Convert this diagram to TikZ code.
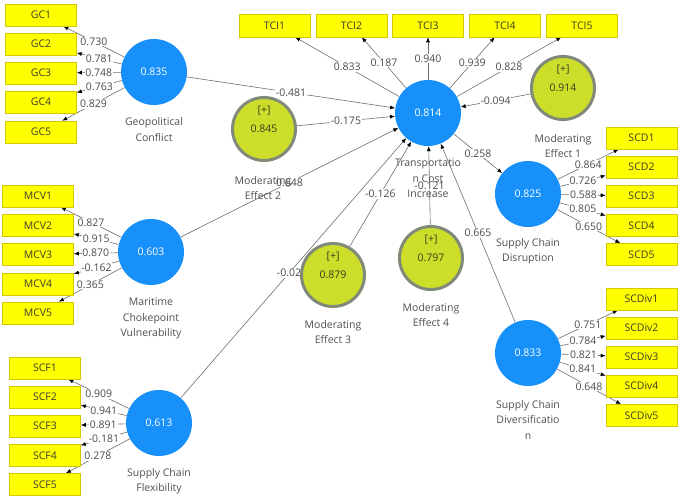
\documentclass[tikz,border=0pt]{standalone}
\usepackage{fontspec}
\setmainfont{Open Sans}
\usetikzlibrary{arrows.meta}
\pgfdeclarelayer{bg}
\pgfsetlayers{bg,main}
\definecolor{lvblue}{RGB}{24,144,250}
\definecolor{modgreen}{RGB}{204,222,42}
\definecolor{modborder}{RGB}{128,138,120}
\definecolor{modtext}{RGB}{60,60,30}
\definecolor{indyellow}{RGB}{255,255,0}
\definecolor{indborder}{RGB}{214,200,0}
\definecolor{boxtext}{RGB}{60,60,40}
\definecolor{captext}{RGB}{80,80,80}
\definecolor{valtext}{RGB}{75,75,75}
\definecolor{linegray}{RGB}{110,110,110}
\begin{document}
\begin{tikzpicture}[x=1pt,y=-1pt, font=\fontsize{10.5}{12}\selectfont,
 lvnode/.style={circle, fill=lvblue, draw=none, minimum size=66pt, inner sep=0pt, text=white, font=\fontsize{10.5}{12}\selectfont},
 modnode/.style={circle, fill=modgreen, draw=modborder, line width=3pt, minimum size=63pt, inner sep=0pt, text=modtext, font=\fontsize{10.5}{12}\selectfont},
 plustext/.style={text=modtext, inner sep=0pt, font=\fontsize{10.5}{12}\selectfont},
 indbox/.style={rectangle, fill=indyellow, draw=indborder, line width=0.6pt, minimum width=71pt, minimum height=22pt, inner sep=0pt, text=boxtext},
 lvcaption/.style={align=center, text=captext, inner sep=0pt, font=\fontsize{10.5}{15.5}\selectfont},
 connector/.style={draw=linegray, line width=0.6pt, -{Latex[length=5pt,width=4pt,color=black]}},
 vallabel/.style={fill=white, inner sep=0.8pt, text=valtext, midway, font=\fontsize{10.5}{12}\selectfont}
]
\useasboundingbox (0,0) rectangle (680,500);

% latent variables
\node[lvnode] (gc) at (154,72) {0.835};
\node[lvnode] (tci) at (428,113) {0.814};
\node[lvnode] (scd) at (528,194) {0.825};
\node[lvnode] (mcv) at (151,252) {0.603};
\node[lvnode] (scf) at (159,423) {0.613};
\node[lvnode] (scdiv) at (528,353) {0.833};

% moderating effects
\node[modnode] (me1) at (563,88) {0.914};
\node[modnode] (me2) at (264,129) {0.845};
\node[modnode] (me3) at (333,275) {0.879};
\node[modnode] (me4) at (431,258) {0.797};
\node[plustext] (me1p) at ([yshift=18pt]me1.center) {[+]};
\node[plustext] (me2p) at ([yshift=18pt]me2.center) {[+]};
\node[plustext] (me3p) at ([yshift=18pt]me3.center) {[+]};
\node[plustext] (me4p) at ([yshift=18pt]me4.center) {[+]};

% captions
\node[lvcaption] (gccap) at (154,129.5) {Geopolitical\\Conflict};
\node[lvcaption] (tcicap) at (428,178.5) {Transportatio\\n Cost\\Increase};
\node[lvcaption] (me2cap) at (263,188) {Moderating\\Effect 2};
\node[lvcaption] (me1cap) at (563,146) {Moderating\\Effect 1};
\node[lvcaption] (scdcap) at (528,251.5) {Supply Chain\\Disruption};
\node[lvcaption] (mcvcap) at (151,318.5) {Maritime\\Chokepoint\\Vulnerability};
\node[lvcaption] (me3cap) at (333,332) {Moderating\\Effect 3};
\node[lvcaption] (me4cap) at (431,315) {Moderating\\Effect 4};
\node[lvcaption] (scfcap) at (159,481.5) {Supply Chain\\Flexibility};
\node[lvcaption] (scdivcap) at (528,420) {Supply Chain\\Diversificatio\\n};

% indicators
\foreach \i/\y in {1/15,2/44,3/73,4/102,5/132} \node[indbox] (gc\i) at (41,\y) {GC\i};
\foreach \i/\y in {1/196,2/225.5,3/254.5,4/284,5/313} \node[indbox] (mcv\i) at (38,\y) {MCV\i};
\foreach \i/\y in {1/368,2/397,3/426,4/455.5,5/484.5} \node[indbox] (scf\i) at (45,\y) {SCF\i};
\foreach \i/\x in {1/274.5,2/351.5,3/428,4/505,5/582} \node[indbox, minimum height=23pt] (tci\i) at (\x,25.5) {TCI\i};
\foreach \i/\y in {1/138,2/167,3/196,4/225.5,5/254.5} \node[indbox] (scd\i) at (641.5,\y) {SCD\i};
\foreach \i/\y in {1/299,2/328,3/357,4/386,5/415.5} \node[indbox] (scdiv\i) at (641.5,\y) {SCDiv\i};

\begin{pgfonlayer}{bg}
% outer loadings
\foreach \i/\v in {1/0.730,2/0.781,3/0.748,4/0.763,5/0.829} \draw[connector] (gc) -- node[vallabel]{\v} (gc\i);
\foreach \i/\v in {1/0.827,2/0.915,3/0.870,4/-0.162,5/0.365} \draw[connector] (mcv) -- node[vallabel]{\v} (mcv\i);
\foreach \i/\v in {1/0.909,2/0.941,3/0.891,4/-0.181,5/0.278} \draw[connector] (scf) -- node[vallabel]{\v} (scf\i);
\foreach \i/\v in {1/0.833,2/0.187,3/0.940,4/0.939,5/0.828} \draw[connector] (tci) -- node[vallabel]{\v} (tci\i);
\foreach \i/\v in {1/0.864,2/0.726,3/0.588,4/0.805,5/0.650} \draw[connector] (scd) -- node[vallabel]{\v} (scd\i);
\foreach \i/\v in {1/0.751,2/0.784,3/0.821,4/0.841,5/0.648} \draw[connector] (scdiv) -- node[vallabel]{\v} (scdiv\i);
% structural paths
\draw[connector] (gc) -- node[vallabel]{-0.481} (tci);
\draw[connector] (me2) -- node[vallabel]{-0.175} (tci);
\draw[connector] (mcv) -- node[vallabel]{0.648} (tci);
\draw[connector] (scf) -- node[vallabel, pos=0.48]{-0.02} (tci);
\draw[connector] (me3) -- node[vallabel]{-0.126} (tci);
\draw[connector] (me4) -- node[vallabel]{-0.121} (tci);
\draw[connector] (scdiv) -- node[vallabel]{0.665} (tci);
\draw[connector] (me1) -- node[vallabel]{-0.094} (tci);
\draw[connector] (tci) -- node[vallabel]{0.258} (scd);
\end{pgfonlayer}
\end{tikzpicture}
\end{document}
